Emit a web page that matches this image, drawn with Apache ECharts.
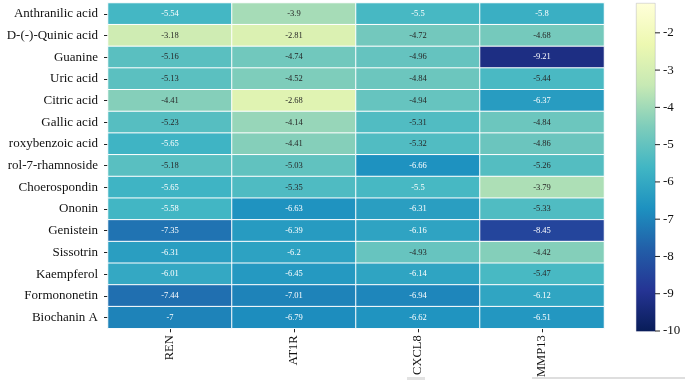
<!DOCTYPE html>
<html>
<head>
<meta charset="utf-8">
<script src="https://cdn.jsdelivr.net/npm/echarts@6/dist/echarts.min.js"></script>
<style>
  html, body { margin: 0; padding: 0; background: #fff; }
  #chart { width: 685px; height: 380px; }
</style>
</head>
<body>
<div id="chart"></div>
<script>
// targets (columns) and compounds (rows, top to bottom)
var targets = ["REN", "AT1R", "CXCL8", "MMP13"];
var compounds = [
  "Anthranilic acid", "D-(-)-Quinic acid", "Guanine", "Uric acid", "Citric acid",
  "Gallic acid", "roxybenzoic acid", "rol-7-rhamnoside", "Choerospondin", "Ononin",
  "Genistein", "Sissotrin", "Kaempferol", "Formononetin", "Biochanin A"
];
// binding energy per target, same order as compounds
var renVals   = [-5.54, -3.18, -5.16, -5.13, -4.41, -5.23, -5.65, -5.18, -5.65, -5.58, -7.35, -6.31, -6.01, -7.44, -7];
var at1rVals  = [-3.9, -2.81, -4.74, -4.52, -2.68, -4.14, -4.41, -5.03, -5.35, -6.63, -6.39, -6.2, -6.45, -7.01, -6.79];
var cxcl8Vals = [-5.5, -4.72, -4.96, -4.84, -4.94, -5.31, -5.32, -6.66, -5.5, -6.31, -6.16, -4.93, -6.14, -6.94, -6.62];
var mmp13Vals = [-5.8, -4.68, -9.21, -5.44, -6.37, -4.84, -4.86, -5.26, -3.79, -5.33, -8.45, -4.42, -5.47, -6.12, -6.51];
var colorbarTicks = [-10, -9, -8, -7, -6, -5, -4, -3, -2];

// YlGnBu, low -> high
var palette = ["#081d58", "#253494", "#225ea8", "#1d91c0", "#41b6c4", "#7fcdbb", "#c7e9b4", "#edf8b1", "#ffffd9"];

var columns = [renVals, at1rVals, cxcl8Vals, mmp13Vals];
var data = [];
columns.forEach(function (vals, ci) {
  vals.forEach(function (v, ri) {
    data.push({
      value: [ci, ri, v],
      label: { color: v > -5.485 ? "#262626" : "#ffffff" }
    });
  });
});

// colour bar gradient (top = high value)
var stops = palette.slice().reverse().map(function (c, i) {
  return { offset: i / (palette.length - 1), color: c };
});

var serif = "'Liberation Serif', 'DejaVu Serif', serif";
var chart = echarts.init(document.getElementById("chart"));
chart.setOption({
  animation: false,
  grid: [
    { left: 108, top: 3, width: 496, height: 327 },
    { left: 636, top: 3, width: 19, height: 328 }
  ],
  xAxis: [
    {
      type: "category",
      data: targets,
      gridIndex: 0,
      position: "bottom",
      axisLine: { show: false },
      axisTick: { show: true, length: 4, alignWithLabel: true, lineStyle: { color: "#222" } },
      axisLabel: { rotate: 90, margin: 7, fontFamily: serif, fontSize: 12.5, color: "#111" },
      splitLine: { show: false }
    },
    {
      type: "value", gridIndex: 1, min: 0, max: 1,
      axisLine: { show: false }, axisTick: { show: false },
      axisLabel: { show: false }, splitLine: { show: false }
    }
  ],
  yAxis: [
    {
      type: "category",
      data: compounds,
      gridIndex: 0,
      inverse: true,
      axisLine: { show: false },
      axisTick: { show: true, length: 4, alignWithLabel: true, lineStyle: { color: "#222" } },
      axisLabel: { margin: 10, fontFamily: serif, fontSize: 13, color: "#111" },
      splitLine: { show: false }
    },
    {
      type: "value",
      gridIndex: 1,
      position: "right",
      min: -10,
      max: -1.2,
      axisLine: { show: false },
      axisTick: { show: false },
      axisLabel: {
        margin: 0,
        customValues: colorbarTicks,
        // tick dash drawn as part of the label
        formatter: function (v) { return "{t|}{v|" + v + "}"; },
        rich: {
          t: { width: 5, height: 1, backgroundColor: "#222", verticalAlign: "middle" },
          v: { padding: [0, 0, 0, 3], fontFamily: serif, fontSize: 13, color: "#111", verticalAlign: "middle" }
        }
      },
      splitLine: { show: false }
    }
  ],
  visualMap: {
    type: "continuous",
    seriesIndex: 0,
    min: -10,
    max: -1.2,
    show: false,
    inRange: { color: palette }
  },
  graphic: [
    {
      type: "rect",
      left: 636,
      top: 3,
      shape: { width: 19, height: 328 },
      style: {
        fill: new echarts.graphic.LinearGradient(0, 0, 0, 1, stops),
        stroke: "rgba(60,60,120,0.35)",
        lineWidth: 0.5
      },
      silent: true
    },
    // faint grey strips along the bottom edge of the original image
    { type: "rect", left: 532, top: 377, shape: { width: 153, height: 2 }, style: { fill: "#dedede" }, silent: true },
    { type: "rect", left: 407, top: 377, shape: { width: 18, height: 3 }, style: { fill: "#e2e2e2" }, silent: true }
  ],
  series: [
    {
      type: "heatmap",
      xAxisIndex: 0,
      yAxisIndex: 0,
      data: data,
      itemStyle: { borderColor: "#ffffff", borderWidth: 1 },
      label: {
        show: true,
        fontFamily: serif,
        fontSize: 8.5,
        formatter: function (p) { return p.value[2]; }
      },
      emphasis: { disabled: true }
    }
  ]
});
</script>
</body>
</html>
